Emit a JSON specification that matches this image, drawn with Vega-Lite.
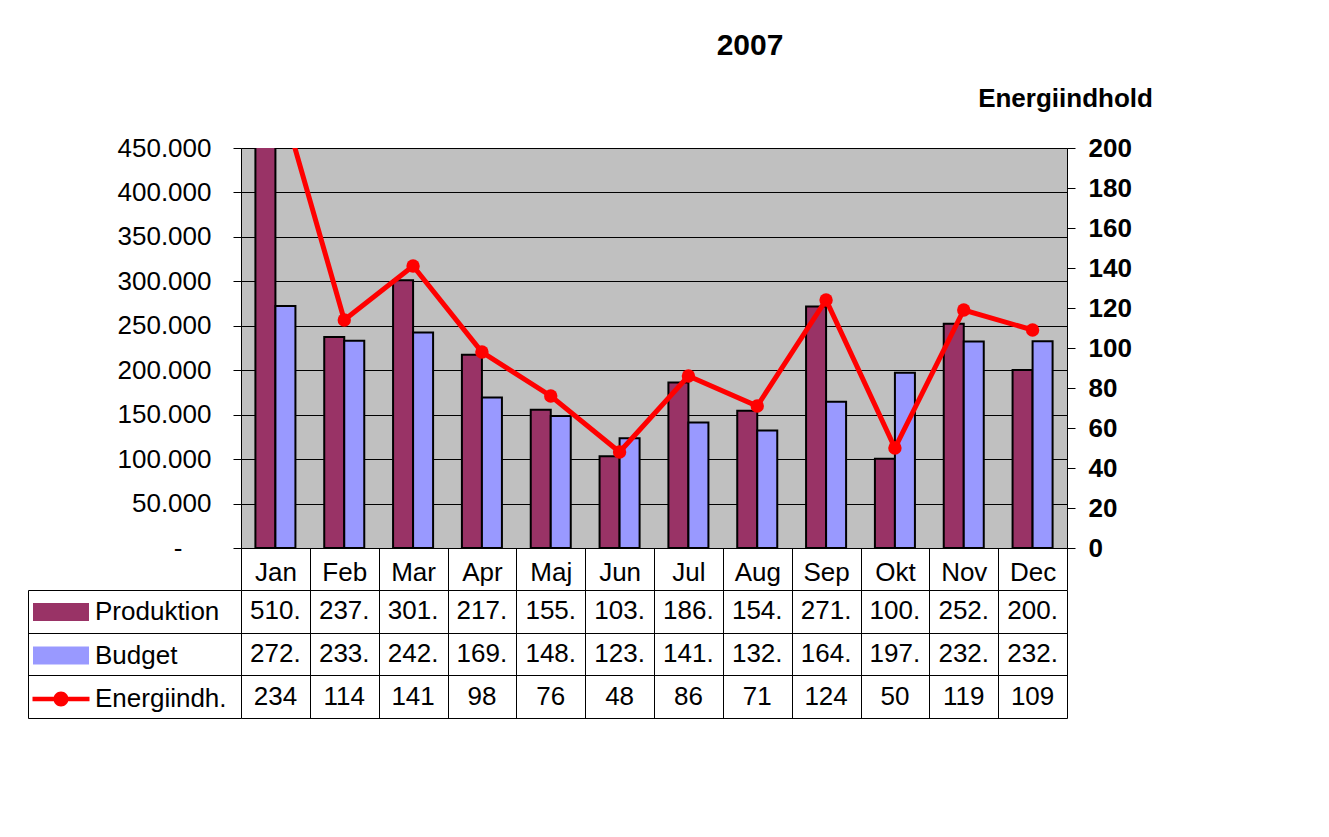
{
  "$schema": "https://vega.github.io/schema/vega-lite/v6.json",
  "autosize": {"type": "none"},
  "padding": {"left": 241, "top": 148, "right": 1088, "bottom": 689},
  "background": "white",
  "spacing": 42,
  "bounds": "flush",
  "config": {
    "view": {"stroke": null},
    "font": "Liberation Sans",
    "axis": {"labelFont": "Liberation Sans", "labelFontSize": 26, "labelColor": "black", "titleFont": "Liberation Sans", "titleColor": "black"},
    "locale": {"number": {"decimal": ",", "thousands": ".", "grouping": [3], "currency": ["", " kr."]}}
  },
  "datasets": {
    "d": [
      {"month": "Jan", "series": "Produktion", "value": 510400},
      {"month": "Feb", "series": "Produktion", "value": 237300},
      {"month": "Mar", "series": "Produktion", "value": 301200},
      {"month": "Apr", "series": "Produktion", "value": 217400},
      {"month": "Maj", "series": "Produktion", "value": 155600},
      {"month": "Jun", "series": "Produktion", "value": 103200},
      {"month": "Jul", "series": "Produktion", "value": 186300},
      {"month": "Aug", "series": "Produktion", "value": 154500},
      {"month": "Sep", "series": "Produktion", "value": 271600},
      {"month": "Okt", "series": "Produktion", "value": 100400},
      {"month": "Nov", "series": "Produktion", "value": 252300},
      {"month": "Dec", "series": "Produktion", "value": 200200},
      {"month": "Jan", "series": "Budget", "value": 272300},
      {"month": "Feb", "series": "Budget", "value": 233100},
      {"month": "Mar", "series": "Budget", "value": 242500},
      {"month": "Apr", "series": "Budget", "value": 169200},
      {"month": "Maj", "series": "Budget", "value": 148600},
      {"month": "Jun", "series": "Budget", "value": 123400},
      {"month": "Jul", "series": "Budget", "value": 141200},
      {"month": "Aug", "series": "Budget", "value": 132300},
      {"month": "Sep", "series": "Budget", "value": 164500},
      {"month": "Okt", "series": "Budget", "value": 197100},
      {"month": "Nov", "series": "Budget", "value": 232400},
      {"month": "Dec", "series": "Budget", "value": 232600},
      {"month": "Jan", "series": "Energiindh.", "value": 234},
      {"month": "Feb", "series": "Energiindh.", "value": 114},
      {"month": "Mar", "series": "Energiindh.", "value": 141},
      {"month": "Apr", "series": "Energiindh.", "value": 98},
      {"month": "Maj", "series": "Energiindh.", "value": 76},
      {"month": "Jun", "series": "Energiindh.", "value": 48},
      {"month": "Jul", "series": "Energiindh.", "value": 86},
      {"month": "Aug", "series": "Energiindh.", "value": 71},
      {"month": "Sep", "series": "Energiindh.", "value": 124},
      {"month": "Okt", "series": "Energiindh.", "value": 50},
      {"month": "Nov", "series": "Energiindh.", "value": 119},
      {"month": "Dec", "series": "Energiindh.", "value": 109}
    ]
  },
  "resolve": {
    "scale": {"x": "independent", "y": "independent", "color": "independent"},
    "axis": {"x": "independent", "y": "independent"}
  },
  "vconcat": [
    {
      "width": 826,
      "height": 400,
      "data": {"name": "d"},
      "view": {"fill": "#C0C0C0", "stroke": "#808080"},
      "title": {"text": "2007", "font": "Liberation Sans", "fontSize": 30, "fontWeight": "bold", "color": "black", "anchor": "middle", "frame": "group", "dx": 96, "offset": 24},
      "resolve": {"scale": {"y": "independent"}},
      "layer": [
        {
          "transform": [{"filter": "datum.series !== 'Energiindh.'"}],
          "mark": {"type": "bar", "stroke": "black", "strokeWidth": 2, "clip": true},
          "encoding": {
            "x": {
              "field": "month", "type": "ordinal",
              "sort": ["Jan", "Feb", "Mar", "Apr", "Maj", "Jun", "Jul", "Aug", "Sep", "Okt", "Nov", "Dec"],
              "scale": {"paddingInner": 0, "paddingOuter": 0},
              "axis": {"title": null, "orient": "bottom", "tickBand": "extent", "tickSize": 42, "tickColor": "black", "domainColor": "black", "labelAngle": 0, "labelPadding": -10, "labelBaseline": "alphabetic", "grid": false}
            },
            "xOffset": {"field": "series", "sort": ["Produktion", "Budget"], "scale": {"paddingInner": 0, "paddingOuter": 0.72}},
            "y": {
              "field": "value", "type": "quantitative",
              "scale": {"domain": [0, 450000], "nice": false},
              "axis": {"title": null, "values": [0, 50000, 100000, 150000, 200000, 250000, 300000, 350000, 400000, 450000], "format": ",.0f", "labelExpr": "datum.value === 0 ? '-' : datum.label", "tickSize": 8, "tickColor": "black", "domainColor": "black",
                "labelPadding": {"condition": {"test": "datum.value === 0", "value": 51}, "value": 22},
                "grid": true, "gridColor": "black", "gridOpacity": 1}
            },
            "color": {
              "field": "series", "type": "nominal",
              "scale": {"domain": ["Produktion", "Budget", "Energiindh."], "range": ["#993366", "#9999FF", "#FF0000"]},
              "legend": {
                "orient": "none", "legendX": -213, "legendY": 451, "title": null, "direction": "vertical",
                "padding": 0, "symbolOffset": 20, "labelOffset": 21, "rowPadding": 17.5,
                "labelFont": "Liberation Sans", "labelFontSize": 26, "labelColor": "black", "labelLimit": 300,
                "symbolSize": 3249, "symbolStrokeColor": "black", "symbolStrokeWidth": 2,
                "encode": {
                  "symbols": {
                    "update": {
                      "shape": {"signal": "datum.value === 'Energiindh.' ? 'M-1,-0.079H1V0.079H-1Z M-0.263,0A0.263,0.263 0 1,1 0.263,0A0.263,0.263 0 1,1 -0.263,0Z' : 'M-0.947,-0.28H0.947V0.28H-0.947Z'"},
                      "fill": {"signal": "datum.value === 'Produktion' ? '#993366' : datum.value === 'Budget' ? '#9999FF' : '#FF0000'"},
                      "stroke": {"signal": "datum.value === 'Energiindh.' ? 'transparent' : 'black'"},
                      "strokeWidth": {"signal": "datum.value === 'Energiindh.' ? 0 : 2"},
                      "opacity": {"value": 1},
                      "fillOpacity": {"value": 1},
                      "strokeOpacity": {"value": 1}
                    }
                  }
                }
              }
            }
          }
        },
        {
          "transform": [{"filter": "datum.series === 'Energiindh.'"}],
          "encoding": {
            "x": {
              "field": "month", "type": "ordinal",
              "sort": ["Jan", "Feb", "Mar", "Apr", "Maj", "Jun", "Jul", "Aug", "Sep", "Okt", "Nov", "Dec"]
            },
            "y": {
              "field": "value", "type": "quantitative",
              "scale": {"domain": [0, 200], "nice": false},
              "axis": {"orient": "right", "values": [0, 20, 40, 60, 80, 100, 120, 140, 160, 180, 200], "title": "Energiindhold", "titleAngle": 0, "titleX": -2, "titleY": -50, "titleAlign": "center", "titleBaseline": "middle", "titleFontSize": 26, "titleFontWeight": "bold", "labelFontWeight": "bold", "tickSize": 8, "labelPadding": 13, "tickColor": "black", "domainColor": "black", "grid": false}
            },
            "color": {
              "field": "series", "type": "nominal",
              "legend": {
                "orient": "none", "legendX": -213, "legendY": 451, "title": null, "direction": "vertical",
                "padding": 0, "symbolOffset": 20, "labelOffset": 21, "rowPadding": 17.5,
                "labelFont": "Liberation Sans", "labelFontSize": 26, "labelColor": "black", "labelLimit": 300,
                "symbolSize": 3249, "symbolStrokeColor": "black", "symbolStrokeWidth": 2,
                "encode": {
                  "symbols": {
                    "update": {
                      "shape": {"signal": "datum.value === 'Energiindh.' ? 'M-1,-0.079H1V0.079H-1Z M-0.263,0A0.263,0.263 0 1,1 0.263,0A0.263,0.263 0 1,1 -0.263,0Z' : 'M-0.947,-0.28H0.947V0.28H-0.947Z'"},
                      "fill": {"signal": "datum.value === 'Produktion' ? '#993366' : datum.value === 'Budget' ? '#9999FF' : '#FF0000'"},
                      "stroke": {"signal": "datum.value === 'Energiindh.' ? 'transparent' : 'black'"},
                      "strokeWidth": {"signal": "datum.value === 'Energiindh.' ? 0 : 2"},
                      "opacity": {"value": 1},
                      "fillOpacity": {"value": 1},
                      "strokeOpacity": {"value": 1}
                    }
                  }
                }
              }
            }
          },
          "layer": [
            {"mark": {"type": "line", "strokeWidth": 5, "clip": true}},
            {"mark": {"type": "point", "filled": true, "size": 180, "opacity": 1, "clip": true}}
          ]
        }
      ]
    },
    {
      "width": 826,
      "height": 128,
      "data": {"name": "d"},
      "mark": {"type": "text", "font": "Liberation Sans", "fontSize": 26, "color": "black", "baseline": "middle", "align": "center", "limit": 60, "ellipsis": "\u200b"},
      "encoding": {
        "x": {
          "field": "month", "type": "ordinal",
          "sort": ["Jan", "Feb", "Mar", "Apr", "Maj", "Jun", "Jul", "Aug", "Sep", "Okt", "Nov", "Dec"],
          "scale": {"paddingInner": 0, "paddingOuter": 0},
          "axis": {"title": null, "labels": false, "ticks": false, "domain": false, "grid": true, "gridColor": "black", "gridOpacity": 1, "tickBand": "extent"}
        },
        "y": {
          "field": "series", "type": "nominal",
          "sort": ["Produktion", "Budget", "Energiindh."],
          "scale": {"paddingInner": 0, "paddingOuter": 0},
          "axis": {"title": null, "labels": false, "offset": 213, "tickSize": -213, "tickBand": "extent", "tickColor": "black", "domain": true, "domainColor": "black", "grid": true, "gridColor": "black", "gridOpacity": 1}
        },
        "text": {"field": "value", "type": "quantitative", "format": ",.0f"}
      }
    }
  ]
}
